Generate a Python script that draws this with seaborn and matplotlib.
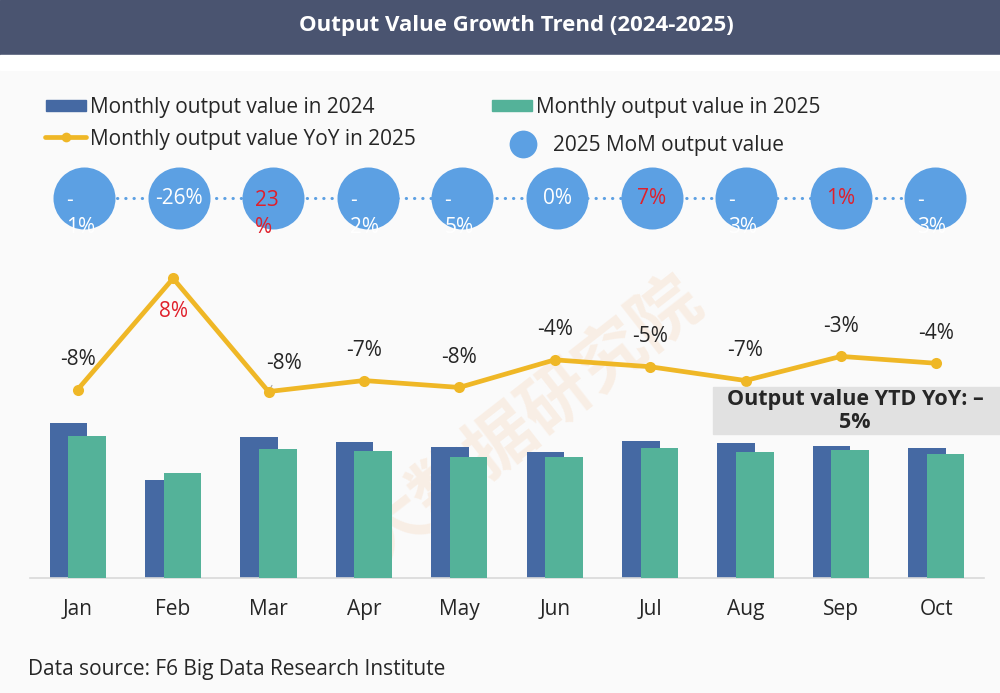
import numpy as np
import pandas as pd
import matplotlib
matplotlib.use("Agg")
import matplotlib.pyplot as plt
import seaborn as sns
from matplotlib.patches import Rectangle, Ellipse, Patch
from matplotlib.lines import Line2D

# chart data
months = ["Jan", "Feb", "Mar", "Apr", "May", "Jun", "Jul", "Aug", "Sep", "Oct"]
output_2024 = [155, 98, 141, 136, 131, 126, 137, 135, 132, 130]
output_2025 = [142, 105, 129, 127, 121, 121, 130, 126, 128, 124]
yoy_2025 = [-7.9, 8.2, -8.2, -6.6, -7.6, -3.6, -4.6, -6.6, -3.1, -4.1]
mom_2025 = [-1, -26, 23, -2, -5, 0, 7, -3, 1, -3]
# bubble labels as they wrap in the original
mom_labels = ["-\n1%", "-26%", "23\n%", "-\n2%", "-\n5%", "0%", "7%", "-\n3%", "1%", "-\n3%"]
ytd_yoy = -5

# colours
C24 = "#4569a3"
C25 = "#54b299"
CLINE = "#efb726"
CBUB = "#5ca0e3"
RED = "#e0202b"
DARK = "#262626"

sns.set_theme(style="white")
plt.rcParams["font.family"] = ["Open Sans", "DejaVu Sans"]

df = pd.DataFrame({"pos": np.arange(len(months)), "month": months,
                   "y2024": output_2024, "y2025": output_2025,
                   "yoy": yoy_2025, "mom": mom_2025})

W, H = 1000, 693
fig = plt.figure(figsize=(W / 100, H / 100), dpi=100, facecolor="#fafafa")

# title bar + white strip under it
fig.patches.append(Rectangle((0, 1 - 55 / H), 1, 55 / H, transform=fig.transFigure,
                             color="#4a5470", zorder=-3))
fig.patches.append(Rectangle((0, 1 - 70 / H), 1, 15 / H, transform=fig.transFigure,
                             color="white", zorder=-3))
fig.text(0.516, 1 - 26 / H, "Output Value Growth Trend (2024-2025)", ha="center", va="center",
         color="white", fontsize=16, fontweight="bold")

# watermark
fig.text(0.53, 1 - 420 / H, "大数据研究院", rotation=38, fontsize=50, fontweight="bold",
         family=["Noto Sans CJK SC"], color="#f5c49a", alpha=0.22,
         ha="center", va="center", zorder=-1)

# main axes: bars
ax = fig.add_axes([30 / W, 115 / H, 954 / W, 328 / H])
ax.set_facecolor("none")
off, bw = 0.097, 0.394
sns.barplot(x=df["pos"] - off, y=df["y2024"], native_scale=True, width=bw, color=C24,
            saturation=1, errorbar=None, linewidth=0, ax=ax, zorder=2)
sns.barplot(x=df["pos"] + off, y=df["y2025"], native_scale=True, width=bw, color=C25,
            saturation=1, errorbar=None, linewidth=0, ax=ax, zorder=3)
ax.set_xlim(-0.5, 9.5)
ax.set_ylim(0, 328)
ax.set_xticks(df["pos"], months)
ax.set_yticks([])
ax.set_xlabel("")
ax.set_ylabel("")
for s in ["top", "left", "right"]:
    ax.spines[s].set_visible(False)
ax.spines["bottom"].set_color("#d9d9d9")
ax.spines["bottom"].set_linewidth(1.2)
ax.tick_params(axis="x", length=0, pad=15, labelsize=15, labelcolor=DARK)

# YoY line on twin axis
ax2 = ax.twinx()
sns.lineplot(x=df["pos"], y=df["yoy"], ax=ax2, color=CLINE, linewidth=3.4,
             marker="o", markersize=8, markeredgewidth=0, zorder=4)
ax2.set_ylim(-35.22, 12.32)
ax2.set_yticks([])
ax2.set_ylabel("")
for s in ax2.spines.values():
    s.set_visible(False)

lbl_off = {1: (0, -24), 2: (11.5, 20.5)}
for i, v in enumerate(df["yoy"]):
    dx, dy = lbl_off.get(i, (0, 21.5))
    kw = {}
    if i == 2:
        kw["arrowprops"] = dict(arrowstyle="-", color="#a6a6a6", lw=0.8, shrinkA=7, shrinkB=3)
    ax2.annotate(f"{v:.0f}%", (i, v), xytext=(dx, dy), textcoords="offset points",
                 ha="center", va="center", fontsize=15,
                 color=RED if v > 0 else DARK, **kw)

# MoM bubble row
axb = fig.add_axes([0, 1 - 232 / H, 1, 67 / H])
axb.set_xlim(-84 / 94.6, (W - 84) / 94.6)
axb.set_ylim(0, 1)
axb.axis("off")
yc = 0.507
axb.plot(df["pos"], [yc] * len(df), color=CBUB, linewidth=2.2,
         linestyle=(0, (0.1, 2.6)), dash_capstyle="round", zorder=1)
sns.scatterplot(x=df["pos"], y=[yc] * len(df), s=1993, color=CBUB, linewidth=0,
                ax=axb, zorder=2, legend=False)
axb.set_xlabel("")
axb.set_ylabel("")
for i, (m, lab) in enumerate(zip(df["mom"], mom_labels)):
    col = RED if m > 0 else "white"
    clip = Ellipse((i, yc), 62 / 94.6, 62 / 67, transform=axb.transData)
    if "\n" in lab:
        t = axb.annotate(lab, (i, yc), xytext=(-13, 6), textcoords="offset points",
                         ha="left", va="top", fontsize=15, color=col,
                         linespacing=1.4, zorder=3)
    else:
        t = axb.text(i, yc, lab, ha="center", va="center", fontsize=15, color=col, zorder=3)
    t.set_clip_on(True)
    t.set_clip_path(clip)

# legend entries
fs = 15
lkw = dict(loc="center left", frameon=False, borderpad=0, borderaxespad=0,
           fontsize=fs, labelcolor=DARK)
fig.legend(handles=[Patch(color=C24)], labels=["Monthly output value in 2024"],
           bbox_to_anchor=(46 / W, 1 - 107 / H), handlelength=1.92, handleheight=0.43,
           handletextpad=0.2, **lkw)
fig.legend(handles=[Patch(color=C25)], labels=["Monthly output value in 2025"],
           bbox_to_anchor=(492 / W, 1 - 107 / H), handlelength=1.92, handleheight=0.43,
           handletextpad=0.2, **lkw)
fig.legend(handles=[Line2D([0], [0], color=CLINE, lw=3.4, marker="o", ms=7, mew=0)],
           labels=["Monthly output value YoY in 2025"], numpoints=1,
           bbox_to_anchor=(45 / W, 1 - 139 / H), handlelength=1.97,
           handletextpad=0.2, **lkw)
fig.legend(handles=[Line2D([0], [0], ls="none", marker="o", ms=20, mew=0, color=CBUB)],
           labels=["2025 MoM output value"], numpoints=1,
           bbox_to_anchor=(508.5 / W, 1 - 146 / H), handlelength=1.4,
           handletextpad=0.74, **lkw)

# YTD box
fig.patches.append(Rectangle((713 / W, 1 - 434 / H), 287 / W, 47 / H,
                             transform=fig.transFigure, color="#e1e1e1", zorder=1))
fig.text(855 / W, 1 - 411 / H, f"Output value YTD YoY: –\n{abs(ytd_yoy)}%", ha="center",
         va="center", fontsize=15.5, fontweight="bold", color=DARK, linespacing=1.1, zorder=5)

# source
fig.text(28 / W, 1 - 669 / H, "Data source: F6 Big Data Research Institute",
         fontsize=15, va="center", color=DARK)

fig.savefig("out.png", dpi=100, facecolor=fig.get_facecolor())
